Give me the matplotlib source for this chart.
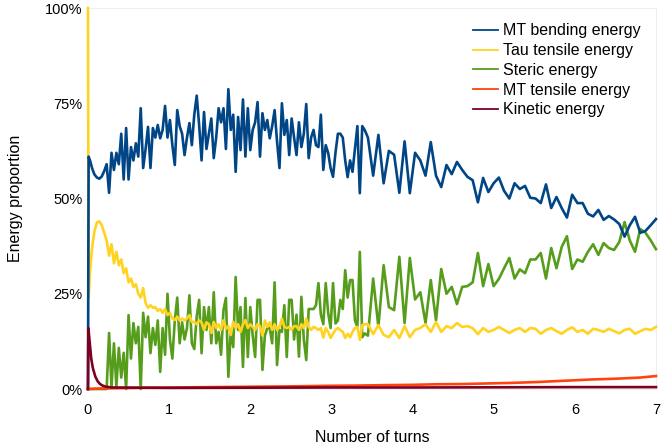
import numpy as np
import matplotlib
matplotlib.use("Agg")
import matplotlib.pyplot as plt
from matplotlib.lines import Line2D
from matplotlib.ticker import PercentFormatter

plt.rcParams["font.family"] = ["Liberation Sans", "DejaVu Sans"]

# sample times (turns): early smooth part, dense middle, sparser tail
turns_early = [0, 0.008, 0.025, 0.05, 0.08, 0.11, 0.14, 0.17, 0.20, 0.23]
turns = np.concatenate([turns_early,
                        np.linspace(0.26, 3.41, 106),
                        np.linspace(3.45, 7.0, 56)])

# energy proportions in percent
bending = [0, 61, 60, 58, 56.3, 55.5, 55.2, 55.8, 57.2, 59,
           51.5, 62, 57.5, 62, 59, 67, 55, 68.5, 55, 63.5,
           60, 64.5, 61, 73.7, 58, 63, 68.8, 58, 68.5, 66,
           69.3, 65.8, 68, 74.3, 66, 70.6, 64, 58.8, 73.2, 69,
           67, 61.4, 66, 69.8, 64, 72, 77, 69.3, 60, 72.7,
           63, 67, 71, 60.6, 66, 73.7, 70, 73.7, 63, 78.7,
           68, 72, 57, 71.4, 62.7, 76, 61, 73.7, 62.7, 68,
           70, 75.3, 61, 72.4, 68, 70.6, 65.8, 69, 73.2, 65,
           58, 75, 66.7, 70.6, 61.4, 71, 66, 61.4, 70, 63.5,
           67, 74.8, 60.6, 66, 68, 64, 63.5, 72, 57.5, 64,
           62, 58, 55.7, 62, 67, 67, 66, 60, 55.6, 60,
           57, 63, 69, 51.4, 69, 68,
           66, 56, 66.7, 54, 62.5, 61.5, 51.5, 65, 51.4, 62,
           60, 56, 64.8, 56, 53, 58.8, 56.4, 59.6, 57.5, 55.7,
           54.8, 49, 55.4, 51.7, 54, 55.5, 52, 50, 54, 52.5,
           53.3, 50.2, 50, 48.8, 53.7, 47.5, 50.4, 47.5, 45, 51,
           48.8, 48.8, 46, 45.3, 47, 44.4, 45.4, 44.5, 43.3, 40,
           43, 45.2, 41, 41.5, 43, 44.6]

tau = [100, 24, 31, 37, 41.5, 43.7, 44, 43, 41, 39,
       35, 38, 33, 36, 32.5, 34, 30.4, 31.7, 28, 29,
       26.8, 27.5, 25, 24, 26.5, 22.6, 21.3, 22, 21.3, 21.5,
       20.5, 21, 20, 21, 19.4, 20, 18.5, 18.1, 19, 18,
       18.5, 18, 18.5, 19.4, 17.6, 17.6, 17, 18, 17.5, 15.5,
       17.5, 17, 14.7, 17.6, 16, 17, 15.5, 18, 15.8, 16.5,
       14.2, 17.6, 16, 17, 15, 17, 18.1, 16, 17, 16.3,
       15.5, 17, 16.5, 14, 18, 16.3, 17.5, 15.5, 17, 15.5,
       16.3, 18.5, 16.3, 16, 16.3, 15.5, 16.5, 16.5, 15.5, 17,
       16, 18.5, 16.3, 15.5, 16.3, 16, 15.5, 16, 13.5, 16,
       15, 13.4, 14.5, 15.5, 16, 15.5, 15, 13.4, 14.5, 13.6,
       15, 16, 16.3, 12.9, 16.8, 17,
       17, 14.4, 16.8, 14.2, 13.6, 15.5, 13.4, 16.5, 13.6, 15.5,
       16, 17, 15, 17.6, 15, 16.5, 16, 17.3, 16.3, 16.5,
       16, 14.4, 16, 15, 15.5, 16.3, 15.5, 14.7, 15.5, 16,
       15, 16, 15.8, 14.5, 15.5, 16, 15.2, 14.5, 15.5, 16.2,
       15, 15.5, 14.5, 15.8, 15.5, 15, 15.8, 15.2, 14.6, 15.5,
       15.8, 14.5, 15.2, 15.8, 15.5, 16.3]

steric = [0, 0, 0, 0, 0, 0, 0, 0, 0, 0,
          14.7, 0.5, 12, 0.7, 10.8, 3, 9.5, 0, 19.4, 8,
          17.3, 12, 16.3, 0, 20, 13.6, 19, 9.4, 16, 11.6,
          18, 4.5, 16, 9, 25, 13, 8, 18, 24, 12,
          17.5, 13, 16, 24.6, 12, 10.5, 19, 23.4, 9.4, 21.5,
          15.5, 21.5, 12, 25.4, 12, 15, 9, 20.7, 23.9, 3.2,
          15.5, 11, 29.4, 15.5, 21.5, 5.8, 23.9, 8.4, 21.5, 14,
          8.4, 23.4, 23.4, 5, 14, 16, 16, 12, 28, 6.3,
          15.5, 15, 22, 8.4, 23.4, 23.4, 13, 19.5, 8.5, 24.2,
          13, 7.6, 21, 21, 21, 22, 27.8, 19.5, 17, 27.8,
          20, 16, 27.8, 17.2, 18, 23.4, 21, 31.2, 24, 28.6,
          28.6, 18, 16.3, 36, 13.6, 14.6,
          14, 29, 16.3, 32.5, 21.5, 20.7, 34.7, 17.3, 34.4, 23.5,
          25.4, 17.3, 28.6, 18, 31.5, 25, 26.8, 22.3, 26.8, 27,
          28, 35.7, 27, 32.8, 27, 28.9, 31.7, 34.4, 29, 31.4,
          30.4, 34, 34, 35.7, 29, 37, 31.7, 37.3, 40.1, 31.5,
          34, 33.4, 36, 38, 35.2, 38.3, 37, 36.5, 38.6, 43.8,
          39, 36, 42, 41, 39, 36.7]

# MT tensile and kinetic are smooth, so they get their own coarser samples
tensile_turns = [0, 0.1, 0.3, 0.6, 1.0, 1.5, 2.0, 2.5, 3.0, 3.3, 3.6, 4.0,
                 4.3, 4.6, 4.9, 5.2, 5.5, 5.8, 6.0, 6.2, 6.5, 6.8, 7.0]
tensile = [0, 0.1, 0.2, 0.3, 0.4, 0.5, 0.6, 0.7, 0.85, 0.9, 1.0, 1.1,
           1.25, 1.3, 1.45, 1.6, 1.8, 2.1, 2.3, 2.5, 2.7, 3.0, 3.4]

kinetic_turns = [0, 0.005, 0.02, 0.04, 0.06, 0.09, 0.12, 0.15, 0.18, 0.22,
                 0.3, 1, 2, 3, 4, 5, 6, 7]
kinetic = [0, 16, 12.5, 8, 5.5, 3.3, 2, 1.3, 0.9, 0.6,
           0.4, 0.3, 0.35, 0.4, 0.4, 0.45, 0.5, 0.5]

colors = {'bend': '#004586', 'tau': '#ffd320', 'steric': '#579d1c',
          'tensile': '#ff420e', 'kin': '#7e0021'}
labels = ['MT bending energy', 'Tau tensile energy', 'Steric energy',
          'MT tensile energy', 'Kinetic energy']

fig = plt.figure(figsize=(6.61, 4.45), dpi=100, facecolor='white')
ax = fig.add_axes([0.1331, 0.1258, 0.8593, 0.8562])

lw = 1.9
ax.plot(turns, steric, color=colors['steric'], lw=lw, zorder=3, clip_on=False)
ax.plot(turns, tau, color=colors['tau'], lw=lw, zorder=4, clip_on=False)
ax.plot(turns, bending, color=colors['bend'], lw=lw, zorder=5, clip_on=False)
ax.plot(tensile_turns, tensile, color=colors['tensile'], lw=lw, zorder=6, clip_on=False)
ax.plot(kinetic_turns, kinetic, color=colors['kin'], lw=lw, zorder=7, clip_on=False)

ax.set_xlim(0, 7)
ax.set_ylim(0, 100)
ax.set_xticks(range(8))
ax.set_yticks([0, 25, 50, 75, 100])
ax.yaxis.set_major_formatter(PercentFormatter(decimals=0))
ax.tick_params(length=0, labelsize=10.5)
ax.tick_params(axis='x', pad=10)
ax.tick_params(axis='y', pad=4)
for s in ax.spines.values():
    s.set_color('#eeeeee')
    s.set_linewidth(0.8)

ax.set_xlabel('Number of turns', fontsize=11.5, labelpad=9.5)
ax.set_ylabel('Energy proportion', fontsize=11.5, labelpad=16)

handles = [Line2D([], [], color=colors[k], lw=1.3)
           for k in ['bend', 'tau', 'steric', 'tensile', 'kin']]
ax.legend(handles, labels, loc='upper right', bbox_to_anchor=(0.99, 0.985),
          frameon=False, fontsize=11.5, handlelength=1.6, handletextpad=0.3,
          labelspacing=0.3, borderaxespad=0.2)

fig.savefig('out.png', dpi=100, facecolor='white')
